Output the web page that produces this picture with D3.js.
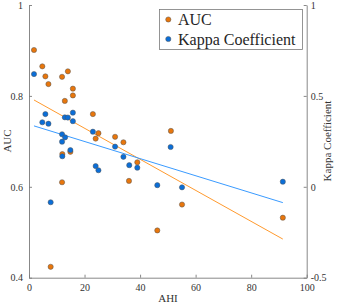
<!DOCTYPE html>
<html>
<head>
<meta charset="utf-8">
<script src="https://cdn.jsdelivr.net/npm/d3@7"></script>
<style>
  body { margin: 0; background: #fff; }
  text { font-family: "Liberation Serif", serif; }
</style>
</head>
<body>
<svg width="340" height="303"></svg>
<script>
// AUC series (left axis)
var aucAhi = [1.8, 4.8, 5.9, 7.0, 7.8, 11.9, 11.9, 12.0, 12.9, 14.0, 14.9, 15.8, 15.8,
    23.0, 24.0, 25.0, 31.0, 34.0, 36.0, 39.0, 46.2, 51.1, 55.1, 91.4];
var aucValues = [0.901, 0.865, 0.843, 0.826, 0.424, 0.842, 0.610, 0.672, 0.789, 0.854, 0.677, 0.816, 0.801,
    0.760, 0.706, 0.718, 0.710, 0.698, 0.613, 0.654, 0.504, 0.723, 0.561, 0.532];

// Kappa series (right axis)
var kappaAhi = [1.8, 4.8, 5.9, 7.0, 7.8, 11.9, 11.9, 12.0, 12.9, 13.0, 14.0, 14.9, 15.8, 15.8,
    23.0, 24.0, 25.0, 31.0, 34.0, 36.1, 39.0, 46.2, 51.0, 55.1, 91.4];
var kappaValues = [0.620, 0.355, 0.400, 0.347, -0.085, 0.289, 0.248, 0.168, 0.382, 0.272, 0.381, 0.202, 0.408, 0.361,
    0.303, 0.114, 0.091, 0.221, 0.165, 0.119, 0.105, 0.009, 0.219, -0.003, 0.028];

// fitted trend lines (end points)
var aucFitAhi = [1.8, 91.4];
var aucFit = [0.791, 0.485];
var kappaFitAhi = [1.8, 91.4];
var kappaFit = [0.335, -0.087];

var xTicks = [0, 20, 40, 60, 80, 100];
var leftTicks = [0.4, 0.6, 0.8, 1];
var rightTicks = [-0.5, 0, 0.5, 1];

var orange = "#e8760c", blue = "#0a6ed8";
var orangeLine = "#ff9a2e", blueLine = "#3a9bff";
var axisColor = "#7a7a7a";

var svg = d3.select("svg");

var xScale = d3.scaleLinear().domain([0, 100]).range([29, 306.7]);
var yLeft = d3.scaleLinear().domain([0.4, 1]).range([277.7, 5]);
var yRight = d3.scaleLinear().domain([-0.5, 1]).range([277.7, 5]);

function styleAxis(g) {
    g.attr("font-family", null);
    g.select(".domain").attr("stroke", axisColor).attr("stroke-width", 0.9);
    g.selectAll(".tick line").attr("stroke", axisColor).attr("stroke-width", 0.9);
    g.selectAll(".tick text").style("font-size", "10px").attr("fill", "#333");
}

// x axis (ticks inward)
var xAxis = d3.axisBottom(xScale).tickValues(xTicks).tickSizeInner(-3).tickSizeOuter(0).tickPadding(6);
svg.append("g").attr("transform", "translate(0,277.7)").call(xAxis).call(styleAxis);

// left axis
var leftAxis = d3.axisLeft(yLeft).tickValues(leftTicks).tickSizeInner(-3).tickSizeOuter(0)
    .tickPadding(6).tickFormat(d3.format("~g"));
svg.append("g").attr("transform", "translate(29,0)").call(leftAxis).call(styleAxis);

// right axis
var rightAxis = d3.axisRight(yRight).tickValues(rightTicks).tickSizeInner(-3).tickSizeOuter(0)
    .tickPadding(4).tickFormat(d3.format("~g"));
svg.append("g").attr("transform", "translate(306.7,0)").call(rightAxis).call(styleAxis);
svg.selectAll(".tick text").text(function() { return this.textContent.replace("\u2212", "-"); });

// axis labels
function label(sel) {
    return sel.style("font-size", "11px").attr("fill", "#333").attr("text-anchor", "middle");
}
svg.append("text").attr("x", 168).attr("y", 302).call(label).text("AHI");
svg.append("text").attr("transform", "translate(11,141) rotate(-90)").call(label).text("AUC");
svg.append("text").attr("transform", "translate(331,141) rotate(-90)").call(label).text("Kappa Coefficient");

// trend lines
var aucLine = d3.line().x((d, i) => xScale(aucFitAhi[i])).y(d => yLeft(d));
var kappaLine = d3.line().x((d, i) => xScale(kappaFitAhi[i])).y(d => yRight(d));

svg.append("path").attr("d", aucLine(aucFit)).attr("fill", "none")
    .attr("stroke", orangeLine).attr("stroke-width", 1);
svg.append("path").attr("d", kappaLine(kappaFit)).attr("fill", "none")
    .attr("stroke", blueLine).attr("stroke-width", 1);

// AUC points
svg.append("g").selectAll("circle").data(aucValues).join("circle")
    .attr("cx", (d, i) => xScale(aucAhi[i]))
    .attr("cy", d => yLeft(d))
    .attr("r", 2.6)
    .attr("fill", orange)
    .attr("stroke", "#555")
    .attr("stroke-width", 0.5);

// Kappa points
svg.append("g").selectAll("circle").data(kappaValues).join("circle")
    .attr("cx", (d, i) => xScale(kappaAhi[i]))
    .attr("cy", d => yRight(d))
    .attr("r", 2.6)
    .attr("fill", blue)
    .attr("stroke", "#555")
    .attr("stroke-width", 0.5);

// Legend
var legend = svg.append("g");
legend.append("rect").attr("x", 159.5).attr("y", 9.5).attr("width", 143).attr("height", 40)
    .attr("fill", "#fff").attr("stroke", axisColor).attr("stroke-width", 0.8);
var legendItems = [
    { label: "AUC", color: orange, y: 19.5 },
    { label: "Kappa Coefficient", color: blue, y: 39 }
];
legend.selectAll("circle").data(legendItems).join("circle")
    .attr("cx", 168.3).attr("cy", d => d.y).attr("r", 2.6)
    .attr("fill", d => d.color).attr("stroke", "#555").attr("stroke-width", 0.5);
legend.selectAll("text").data(legendItems).join("text")
    .attr("x", 178).attr("y", d => d.y + 5.5)
    .style("font-size", "16px").attr("fill", "#262626")
    .text(d => d.label);
</script>
</body>
</html>
